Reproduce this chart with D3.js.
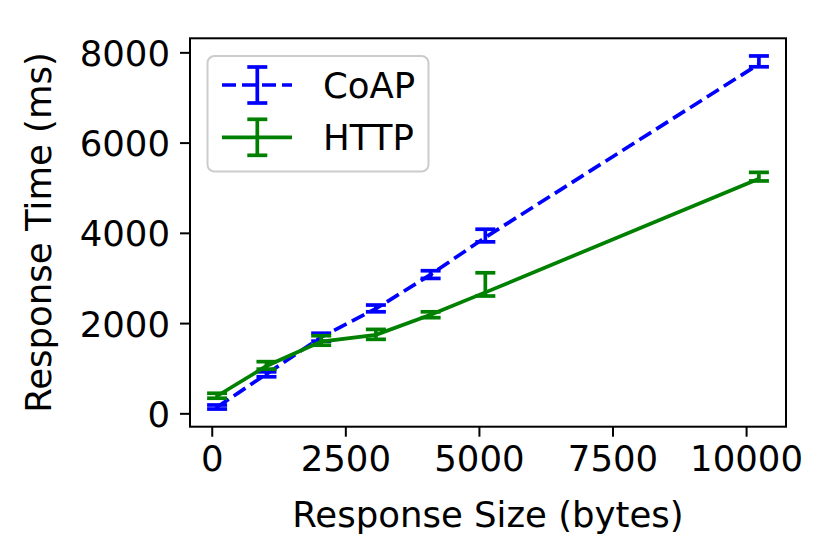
<!DOCTYPE html>
<html>
<head>
<meta charset="utf-8">
<title>Response Time vs Response Size</title>
<script src="https://d3js.org/d3.v7.min.js"></script>
<style>
	body { margin:0; background:#ffffff; }
	.chartContainer { width:829px; height:560px; }
	text { font-family:"DejaVu Sans", sans-serif; fill:#000000; }
	.tick line { stroke:#000000; stroke-width:2; }
	.frame { fill:none; stroke:#000000; stroke-width:2; }
</style>
</head>
<body>
<div class="chartContainer"></div>
<script>
// response sizes (bytes) on the x axis
var sizes = [100, 1024, 2048, 3072, 4096, 5120, 10240];

// CoAP response time (ms) with error bar lows / highs
var coapMean = [140, 870, 1690, 2320, 3075, 3900, 7740];
var coapLow  = [95, 810, 1600, 2250, 2990, 3800, 7680];
var coapHigh = [185, 920, 1775, 2400, 3160, 4080, 7920];

// HTTP response time (ms)
var httpMean = [385, 1050, 1590, 1740, 2185, 2680, 5200];
var httpLow  = [335, 980, 1510, 1640, 2120, 2600, 5150];
var httpHigh = [445, 1145, 1720, 1860, 2250, 3115, 5340];

var xTicks = [0, 2500, 5000, 7500, 10000];
var yTicks = [0, 2000, 4000, 6000, 8000];

var seriesNames = ["CoAP", "HTTP"];

var plot = (function() {
	var fs = 35.5;
	var box = {left:190, right:786, top:38.3, bottom:426.7};

	var series = [
		{name:seriesNames[0], mean:coapMean, low:coapLow, high:coapHigh, color:"#0000ff", dash:"14,6"},
		{name:seriesNames[1], mean:httpMean, low:httpLow, high:httpHigh, color:"#008000", dash:null}
	];

	//matplotlib style auto limits with 5% margins
	var pad = function(lo, hi) { var r = hi - lo; return [lo - r*0.05, hi + r*0.05]; };
	var x = d3.scaleLinear()
		.domain(pad(d3.min(sizes), d3.max(sizes)))
		.range([box.left, box.right]);
	var y = d3.scaleLinear()
		.domain(pad(d3.min(coapLow.concat(httpLow)), d3.max(coapHigh.concat(httpHigh))))
		.range([box.bottom, box.top]);

	var svg = d3.select(".chartContainer").append("svg")
		.attr("width", 829)
		.attr("height", 560);

	svg.append("rect").attr("width", 829).attr("height", 560).attr("fill", "#ffffff");

	// axes
	var fmt = d3.format("d");
	var xAxis = d3.axisBottom(x).tickValues(xTicks).tickFormat(fmt).tickSize(10).tickSizeOuter(0).tickPadding(8);
	var yAxis = d3.axisLeft(y).tickValues(yTicks).tickFormat(fmt).tickSize(10).tickSizeOuter(0).tickPadding(10);

	var gx = svg.append("g")
		.attr("transform", "translate(0," + box.bottom + ")")
		.call(xAxis);
	var gy = svg.append("g")
		.attr("transform", "translate(" + box.left + ",0)")
		.call(yAxis);
	[gx, gy].forEach(function(g) {
		g.select(".domain").remove();
		g.selectAll("text").attr("font-size", fs).attr("font-family", "DejaVu Sans");
	});
	gx.selectAll("text").attr("dy", null).attr("y", 10 + 8 + fs*0.73);
	gy.selectAll("text").attr("dy", null).attr("y", fs*0.365);

	var line = d3.line()
		.x(function(d, i) { return x(sizes[i]); })
		.y(function(d) { return y(d); });

	var cap = 10;
	series.forEach(function(s) {
		var g = svg.append("g");
		g.append("path")
			.attr("d", line(s.mean))
			.attr("fill", "none")
			.attr("stroke", s.color)
			.attr("stroke-width", 3.7)
			.attr("stroke-dasharray", s.dash);
		var eb = g.selectAll(".eb").data(sizes).enter().append("g");
		eb.append("line")
			.attr("x1", function(d) { return x(d); })
			.attr("x2", function(d) { return x(d); })
			.attr("y1", function(d, i) { return y(s.low[i]); })
			.attr("y2", function(d, i) { return y(s.high[i]); })
			.attr("stroke", s.color).attr("stroke-width", 3.7);
		["low", "high"].forEach(function(k) {
			eb.append("line")
				.attr("x1", function(d) { return x(d) - cap; })
				.attr("x2", function(d) { return x(d) + cap; })
				.attr("y1", function(d, i) { return y(s[k][i]); })
				.attr("y2", function(d, i) { return y(s[k][i]); })
				.attr("stroke", s.color).attr("stroke-width", 3.7);
		});
	});

	svg.append("rect")
		.attr("class", "frame")
		.attr("x", box.left).attr("y", box.top)
		.attr("width", box.right - box.left)
		.attr("height", box.bottom - box.top);

	// legend
	var lg = svg.append("g");
	lg.append("rect")
		.attr("x", 207.5).attr("y", 56)
		.attr("width", 221).attr("height", 115.5)
		.attr("rx", 7)
		.attr("fill", "#ffffff").attr("fill-opacity", 0.8)
		.attr("stroke", "#cccccc").attr("stroke-width", 2);
	series.forEach(function(s, i) {
		var ly = 85 + i*52.3;
		var hx = 257.3;
		lg.append("line")
			.attr("x1", 222).attr("x2", 292)
			.attr("y1", ly).attr("y2", ly)
			.attr("stroke", s.color).attr("stroke-width", 3.7)
			.attr("stroke-dasharray", s.dash ? "14,6" : null);
		lg.append("line")
			.attr("x1", hx).attr("x2", hx)
			.attr("y1", ly - 18).attr("y2", ly + 18)
			.attr("stroke", s.color).attr("stroke-width", 3.7);
		[-18, 18].forEach(function(o) {
			lg.append("line")
				.attr("x1", hx - cap).attr("x2", hx + cap)
				.attr("y1", ly + o).attr("y2", ly + o)
				.attr("stroke", s.color).attr("stroke-width", 3.7);
		});
		lg.append("text")
			.attr("x", 323).attr("y", ly + fs*0.365)
			.attr("font-size", fs)
			.text(s.name);
	});

	// axis labels
	svg.append("text")
		.attr("x", (box.left + box.right)/2)
		.attr("y", 527)
		.attr("text-anchor", "middle")
		.attr("font-size", fs)
		.text("Response Size (bytes)");
	svg.append("text")
		.attr("transform", "translate(50.5," + (box.top + box.bottom)/2 + ") rotate(-90)")
		.attr("text-anchor", "middle")
		.attr("font-size", fs)
		.text("Response Time (ms)");
});

plot();
</script>
</body>
</html>
